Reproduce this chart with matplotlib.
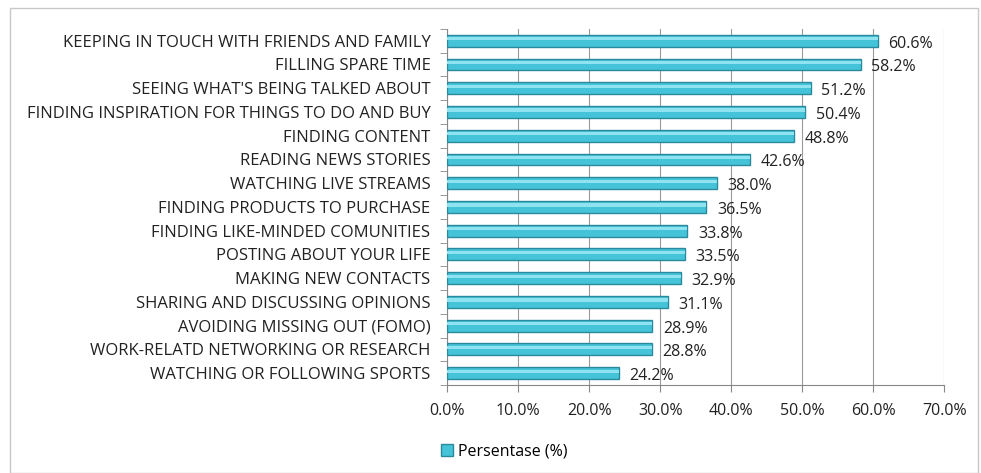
import numpy as np
import matplotlib
matplotlib.use('Agg')
from matplotlib import pyplot as plt
from matplotlib.patches import Rectangle

categories = [
    "KEEPING IN TOUCH WITH FRIENDS AND FAMILY",
    "FILLING SPARE TIME",
    "SEEING WHAT'S BEING TALKED ABOUT",
    "FINDING INSPIRATION FOR THINGS TO DO AND BUY",
    "FINDING CONTENT",
    "READING NEWS STORIES",
    "WATCHING LIVE STREAMS",
    "FINDING PRODUCTS TO PURCHASE",
    "FINDING LIKE-MINDED COMUNITIES",
    "POSTING ABOUT YOUR LIFE",
    "MAKING NEW CONTACTS",
    "SHARING AND DISCUSSING OPINIONS",
    "AVOIDING MISSING OUT (FOMO)",
    "WORK-RELATD NETWORKING OR RESEARCH",
    "WATCHING OR FOLLOWING SPORTS",
]
values = [60.6, 58.2, 51.2, 50.4, 48.8, 42.6, 38.0, 36.5, 33.8, 33.5, 32.9, 31.1, 28.9, 28.8, 24.2]
xticks = [0, 10, 20, 30, 40, 50, 60, 70]
legend_label = "Persentase (%)"

plt.rcParams['font.family'] = ['Open Sans', 'DejaVu Sans']

fig = plt.figure(figsize=(9.81, 4.73), dpi=100)
ax = fig.add_axes([0.4557, 0.186, 0.507, 0.753])

# chart frame
fig.patches.append(Rectangle((10/981, 0.0), 968/981, 1 - 8/473, transform=fig.transFigure,
                             fill=False, edgecolor='#c8c8c8', linewidth=1.0))

y = np.arange(len(categories))
bars = ax.barh(y, values, height=0.5, color='#45c3d8', edgecolor='#2a8a9c', linewidth=1.0,
               zorder=3, label=legend_label)
# highlight strip to mimic the cylinder look
ax.barh(y - 0.08, values, height=0.14, color='#8fe3f0', linewidth=0, zorder=4)

for yi, v in zip(y, values):
    ax.text(v + 1.5, yi + 0.12, f"{v:.1f}%", va='center', ha='left', fontsize=11.5, color='#222222')

ax.set_xlim(0, 70)
ax.set_ylim(len(categories) - 0.5, -0.5)
ax.set_xticks(xticks)
ax.set_xticklabels([f"{t:.1f}%" for t in xticks], fontsize=11.5, color='#222222')
ax.set_yticks(y)
ax.set_yticklabels(categories, fontsize=12, color='#222222')
ax.set_yticks(np.arange(len(categories) + 1) - 0.5, minor=True)
ax.tick_params(axis='y', which='major', length=0, pad=12)
ax.tick_params(axis='y', which='minor', length=5, color='#888888')
ax.tick_params(axis='x', length=5, color='#888888', pad=8)
ax.grid(axis='x', color='#9a9a9a', linewidth=0.8, zorder=0)
for s in ['top', 'right']:
    ax.spines[s].set_visible(False)
ax.spines['left'].set_color('#888888')
ax.spines['bottom'].set_color('#888888')

leg = fig.legend(handles=[bars], labels=[legend_label], loc='center', bbox_to_anchor=(0.514, 0.045),
                 frameon=False, fontsize=11.5, handlelength=0.8, handleheight=0.8, handletextpad=0.3)

fig.savefig('out.png', dpi=100)
